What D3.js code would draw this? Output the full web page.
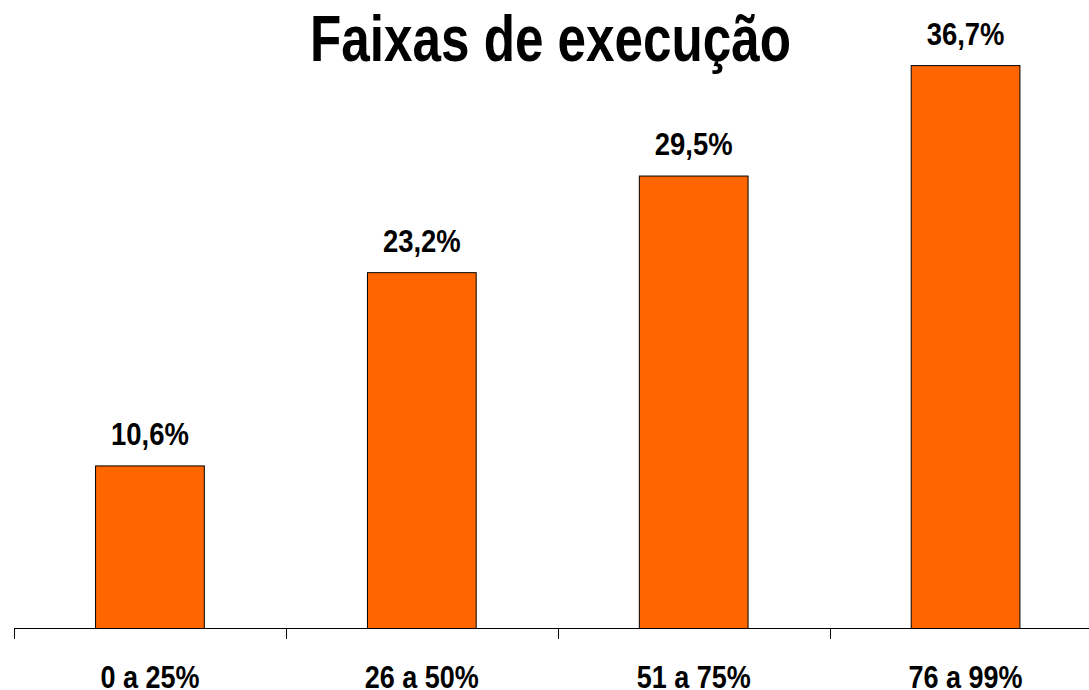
<!DOCTYPE html>
<html><head><meta charset="utf-8">
<script src="https://cdn.jsdelivr.net/npm/d3@7"></script>
<style>
html,body{margin:0;padding:0;background:#fff;overflow:hidden}
text{font-family:"Liberation Sans Narrow","Liberation Sans",Arial,sans-serif;font-weight:bold;fill:#000}
</style></head>
<body>
<svg id="c" width="1089" height="690"></svg>
<script>
const categories = ["0 a 25%", "26 a 50%", "51 a 75%", "76 a 99%"];
const values = [10.6, 23.2, 29.5, 36.7];
const valueLabels = ["10,6%", "23,2%", "29,5%", "36,7%"];
const title = "Faixas de execução";

const svg = d3.select("#c");
const x = d3.scaleBand().domain(categories).range([14, 1101.5]).paddingInner(0.6).paddingOuter(0.3);
const y = d3.scaleLinear().domain([0, 40]).range([628.5, 15]);

svg.selectAll("rect.bar").data(values).join("rect")
  .attr("class","bar")
  .attr("x",(d,i)=>x(categories[i]))
  .attr("width",x.bandwidth())
  .attr("y",d=>y(d))
  .attr("height",d=>y(0)-y(d))
  .attr("fill","#FF6600").attr("stroke","#000").attr("stroke-width",1);

svg.selectAll("g.val").data(values).join("g")
  .attr("class","val")
  .attr("transform",(d,i)=>`translate(${x(categories[i])+x.bandwidth()/2},${y(d)-21}) scale(0.9,1)`)
  .append("text")
  .attr("text-anchor","middle").attr("font-size",30.5)
  .text((d,i)=>valueLabels[i]);

// axis
const step = x.step();
const ax = svg.append("g");
ax.append("line").attr("x1",14).attr("x2",1101.5).attr("y1",628.5).attr("y2",628.5).attr("stroke","#000").attr("stroke-width",1);
const tickPos = d3.range(categories.length+1).map(i=>14+i*step);
ax.selectAll("line.t").data(tickPos).join("line").attr("class","t")
  .attr("x1",d=>Math.round(d)+0.5).attr("x2",d=>Math.round(d)+0.5).attr("y1",628.5).attr("y2",639).attr("stroke","#000");
ax.selectAll("g.cat").data(categories).join("g").attr("class","cat")
  .attr("transform",d=>`translate(${x(d)+x.bandwidth()/2},688) scale(0.87,1)`)
  .append("text")
  .attr("text-anchor","middle").attr("font-size",31).text(d=>d);

svg.append("g").attr("transform","translate(550.5,61) scale(0.8,1)")
  .append("text").attr("text-anchor","middle").attr("font-size",64).text(title);
</script>
</body></html>
